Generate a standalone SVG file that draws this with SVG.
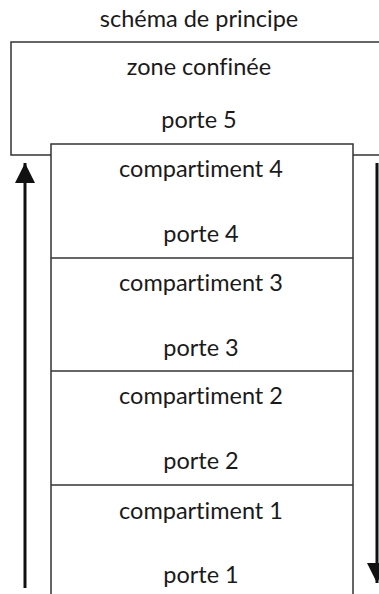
<svg xmlns="http://www.w3.org/2000/svg" width="379" height="594" viewBox="0 0 379 594">
<style>
text{font-family:Lato,"Liberation Sans",sans-serif;font-size:23.5px;fill:#1a1a1a;text-anchor:middle;font-variant-ligatures:none}
.box{fill:none;stroke:#333;stroke-width:1.5}
.arr{stroke:#111;stroke-width:3;fill:none}
</style>
<defs>
<marker id="ah" viewBox="0 0 20 20" refX="20" refY="10" markerWidth="20" markerHeight="20" markerUnits="userSpaceOnUse" orient="auto">
<path d="M0,0 L20,10 L0,20 Z" fill="#111"/>
</marker>
</defs>
<rect width="379" height="594" fill="#fff"/>
<text x="199" y="27">schéma de principe</text>
<g id="zone">
<path class="box" d="M380,42 H11 V155 H51 M353,155 H380"/>
<text x="199" y="75">zone confinée</text>
<text x="199" y="128">porte 5</text>
</g>
<g id="c4">
<path class="box" d="M51,595 V144 H353 V595"/>
<text x="201" y="177">compartiment 4</text>
<text x="201" y="242">porte 4</text>
</g>
<g id="c3">
<path class="box" d="M51,258 H353"/>
<text x="201" y="291">compartiment 3</text>
<text x="201" y="356">porte 3</text>
</g>
<g id="c2">
<path class="box" d="M51,371 H353"/>
<text x="201" y="404">compartiment 2</text>
<text x="201" y="469">porte 2</text>
</g>
<g id="c1">
<path class="box" d="M51,485 H353"/>
<text x="201" y="519">compartiment 1</text>
<text x="201" y="583">porte 1</text>
</g>
<g id="connectors">
<line class="arr" x1="25" y1="588" x2="25" y2="163" marker-end="url(#ah)"/>
<line class="arr" x1="377" y1="163" x2="377" y2="583" marker-end="url(#ah)"/>
</g>
</svg>
